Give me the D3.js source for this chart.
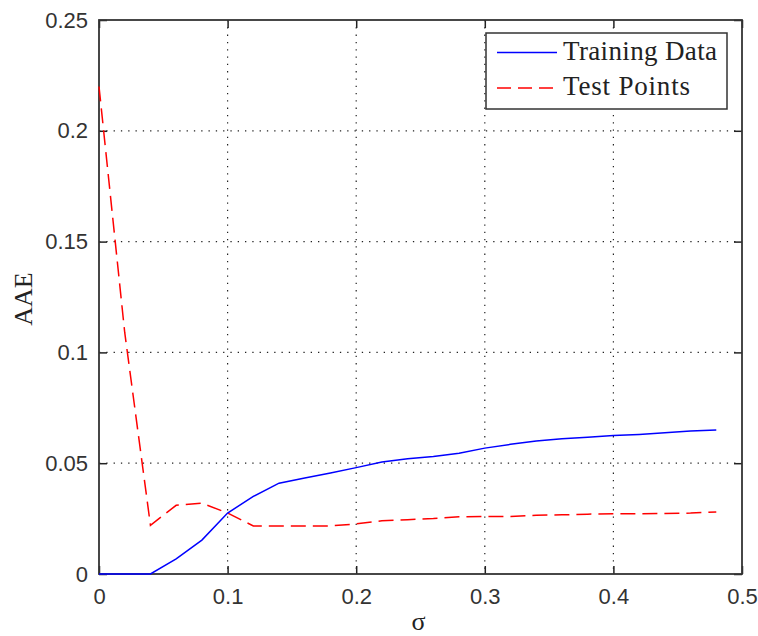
<!DOCTYPE html>
<html>
<head>
<meta charset="utf-8">
<script src="https://cdn.jsdelivr.net/npm/d3@7"></script>
<style>
  html, body { margin: 0; padding: 0; background: #ffffff; }
  svg { display: block; }
</style>
</head>
<body>
<div id="chart"></div>
<script>
// Kernel width sigma vs. average absolute error
const sigma = [0, 0.02, 0.04, 0.06, 0.08, 0.10, 0.12, 0.14, 0.16, 0.18, 0.20, 0.22, 0.24,
               0.26, 0.28, 0.30, 0.32, 0.34, 0.36, 0.38, 0.40, 0.42, 0.44, 0.46, 0.48];
const trainingData = [0, 0, 0, 0.0068, 0.0153, 0.0275, 0.035, 0.041, 0.0433, 0.0456, 0.048, 0.0505, 0.052,
                      0.053, 0.0545, 0.0568, 0.0585, 0.060, 0.061, 0.0617, 0.0625, 0.063, 0.0637, 0.0645, 0.065];
const testPoints = [0.22, 0.109, 0.022, 0.031, 0.032, 0.0275, 0.0217, 0.0217, 0.0217, 0.0217, 0.0226, 0.024, 0.0245,
                    0.025, 0.0258, 0.026, 0.026, 0.0265, 0.0267, 0.027, 0.0272, 0.0272, 0.0273, 0.0275, 0.028];
const xTicks = [0, 0.1, 0.2, 0.3, 0.4, 0.5];
const yTicks = [0, 0.05, 0.1, 0.15, 0.2, 0.25];
const seriesNames = ["Training Data", "Test Points"];

const W = 758, H = 636;
const m = { left: 99, top: 20, right: 758 - 742, bottom: 636 - 574 };
const iw = W - m.left - m.right, ih = H - m.top - m.bottom;

const svg = d3.select("#chart").append("svg").attr("width", W).attr("height", H);
const g = svg.append("g").attr("transform", `translate(${m.left},${m.top})`);

const x = d3.scaleLinear().domain([0, 0.5]).range([0, iw]);
const y = d3.scaleLinear().domain([0, 0.25]).range([ih, 0]);

const sans = "'Liberation Sans', Arial, sans-serif";
const serif = "'Liberation Serif', 'Times New Roman', serif";
const tickLen = 8;

// dotted grid
const grid = g.append("g").attr("stroke", "#222").attr("stroke-width", 1.2)
  .attr("stroke-dasharray", "1.3,6").attr("fill", "none");
xTicks.slice(1, -1).forEach(v => {
  grid.append("line").attr("x1", x(v)).attr("x2", x(v)).attr("y1", 0).attr("y2", ih);
});
yTicks.slice(1, -1).forEach(v => {
  grid.append("line").attr("x1", 0).attr("x2", iw).attr("y1", y(v)).attr("y2", y(v));
});

// axes with inward ticks on all four sides
const fmt = d => d === 0 ? "0" : String(d);
const axB = g.append("g").attr("transform", `translate(0,${ih})`)
  .call(d3.axisBottom(x).tickValues(xTicks).tickFormat(fmt).tickSizeInner(-tickLen).tickSizeOuter(0).tickPadding(14));
const axT = g.append("g")
  .call(d3.axisTop(x).tickValues(xTicks).tickFormat("").tickSizeInner(-tickLen).tickSizeOuter(0));
const axL = g.append("g")
  .call(d3.axisLeft(y).tickValues(yTicks).tickFormat(fmt).tickSizeInner(-tickLen).tickSizeOuter(0).tickPadding(11));
const axR = g.append("g").attr("transform", `translate(${iw},0)`)
  .call(d3.axisRight(y).tickValues(yTicks).tickFormat("").tickSizeInner(-tickLen).tickSizeOuter(0));

[axB, axT, axL, axR].forEach(a => {
  a.select(".domain").remove();
  a.selectAll(".tick line").attr("stroke", "#222").attr("stroke-width", 1.5);
  a.selectAll(".tick text").attr("font-family", sans).attr("font-size", 22).attr("fill", "#333");
});
axB.selectAll(".tick text").attr("dy", "0.71em");

// frame
g.append("rect").attr("x", 0).attr("y", 0).attr("width", iw).attr("height", ih)
  .attr("fill", "none").attr("stroke", "#333").attr("stroke-width", 1.8);

// data lines, drawn over the frame
const line = vals => d3.line().x((d, i) => x(sigma[i])).y(d => y(d))(vals);
g.append("path").attr("d", line(testPoints)).attr("fill", "none")
  .attr("stroke", "#ff0000").attr("stroke-width", 1.5).attr("stroke-dasharray", "15,7");
g.append("path").attr("d", line(trainingData)).attr("fill", "none")
  .attr("stroke", "#0000ff").attr("stroke-width", 1.5);

// legend
const lg = svg.append("g");
lg.append("rect").attr("x", 486).attr("y", 33).attr("width", 241).attr("height", 76)
  .attr("fill", "#fff").attr("stroke", "#333").attr("stroke-width", 1.5);
const legendStyles = [
  { color: "#0000ff", dash: null, y: 52.5, len: 154 },
  { color: "#ff0000", dash: "14,7", y: 88, len: 127 }
];
seriesNames.forEach((name, i) => {
  const s = legendStyles[i];
  lg.append("line").attr("x1", 497).attr("x2", 557).attr("y1", s.y).attr("y2", s.y)
    .attr("stroke", s.color).attr("stroke-width", 1.5)
    .attr("stroke-dasharray", s.dash);
  lg.append("text").attr("x", 563).attr("y", s.y + 7)
    .attr("font-family", serif).attr("font-size", 27).attr("fill", "#222")
    .attr("textLength", s.len).attr("lengthAdjust", "spacing")
    .text(name);
});

// axis titles
svg.append("text").attr("x", m.left + iw / 2 - 2).attr("y", 630)
  .attr("text-anchor", "middle").attr("font-family", serif).attr("font-size", 26).attr("fill", "#222")
  .text("σ");
svg.append("text").attr("transform", `translate(32,${m.top + ih / 2 + 2}) rotate(-90)`)
  .attr("text-anchor", "middle").attr("font-family", serif).attr("font-size", 26).attr("fill", "#222")
  .text("AAE");
</script>
</body>
</html>
